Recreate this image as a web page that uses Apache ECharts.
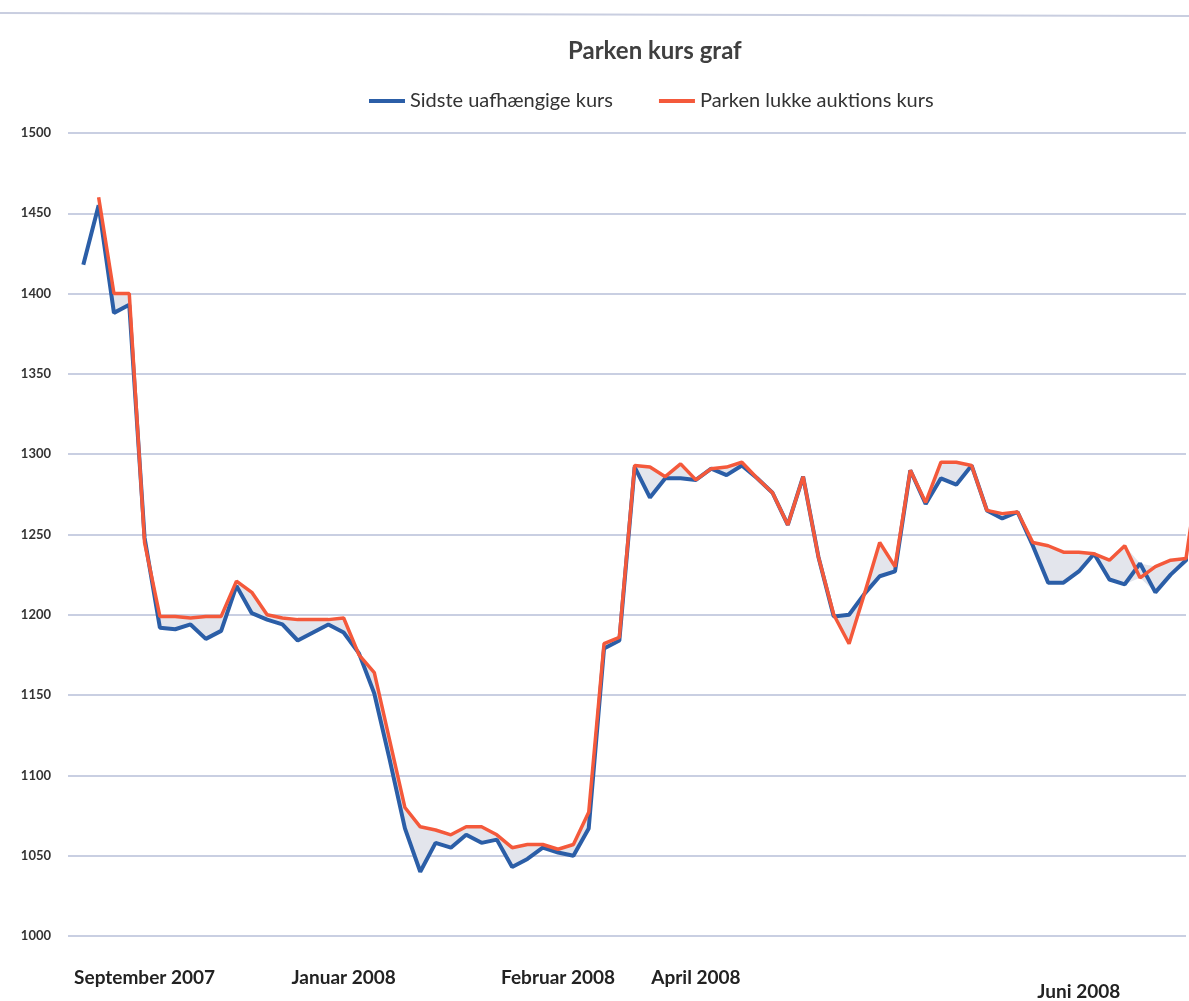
<!DOCTYPE html>
<html><head><meta charset="utf-8">
<script src="https://cdn.jsdelivr.net/npm/echarts@6/dist/echarts.min.js"></script>
<style>html,body{margin:0;padding:0;background:#fff}#c{width:1189px;height:1001px}</style>
</head><body><div id="c"></div>
<script>
const titleText = 'Parken kurs graf';
const seriesNames = ['Sidste uafhængige kurs', 'Parken lukke auktions kurs'];
const xLabelText = ['September 2007', 'Januar 2008', 'Februar 2008', 'April 2008', 'Juni 2008'];
const xLabelAt = [5, 18, 32, 41, 66];
const yMin = 1000, yMax = 1500, yStep = 50;

const blue = [1418, 1455, 1388, 1393, 1248, 1192, 1191, 1194, 1185, 1190,
  1218, 1201, 1197, 1194, 1184, 1189, 1194, 1189, 1176, 1151,
  1110, 1067, 1040, 1058, 1055, 1063, 1058, 1060, 1043, 1048,
  1055, 1052, 1050, 1067, 1179, 1184, 1292, 1273, 1285, 1285,
  1284, 1291, 1287, 1293, 1285, 1276, 1256, 1286, 1236, 1199,
  1200, 1213, 1224, 1227, 1290, 1269, 1285, 1281, 1293, 1265,
  1260, 1264, 1243, 1220, 1220, 1227, 1238, 1222, 1219, 1232,
  1214, 1225, 1234, 1245];
const red = [null, 1460, 1400, 1400, 1245, 1199, 1199, 1198, 1199, 1199,
  1221, 1214, 1200, 1198, 1197, 1197, 1197, 1198, 1175, 1164,
  1122, 1080, 1068, 1066, 1063, 1068, 1068, 1063, 1055, 1057,
  1057, 1054, 1057, 1077, 1182, 1186, 1293, 1292, 1286, 1294,
  1284, 1291, 1292, 1295, 1285, 1276, 1256, 1286, 1236, 1200,
  1182, 1213, 1245, 1230, 1290, 1270, 1295, 1295, 1293, 1265,
  1263, 1264, 1245, 1243, 1239, 1239, 1238, 1234, 1243, 1223,
  1230, 1234, 1235, 1300];

// category slots: slot 0 is empty, data point i sits on slot i+1
const cats = [];
for (let i = 0; i <= blue.length; i++) cats.push('c' + i);
const labelFor = i => { const k = xLabelAt.indexOf(i); return k >= 0 ? xLabelText[k] : ''; };

const B = [null].concat(blue);
const R = [null].concat(red);
const lo = B.map((b, i) => (b == null || R[i] == null) ? null : Math.min(b, R[i]));
const diff = B.map((b, i) => (b == null || R[i] == null) ? null : Math.abs(b - R[i]));

const FONT = 'Lato, "Open Sans", sans-serif';
const chart = echarts.init(document.getElementById('c'), null, {renderer: 'canvas'});
chart.setOption({
  animation: false,
  backgroundColor: '#ffffff',
  title: {
    text: titleText, left: 563, top: 34,
    textStyle: {fontFamily: FONT, fontSize: 24, fontWeight: 'bold', color: '#404040'}
  },
  legend: {
    data: seriesNames, left: 364, top: 86, icon: 'rect',
    itemWidth: 36, itemHeight: 4, itemGap: 46,
    textStyle: {fontFamily: FONT, fontSize: 20, color: '#333'}
  },
  graphic: [{
    type: 'line', shape: {x1: 0, y1: 13, x2: 1189, y2: 16},
    style: {stroke: '#c9cee0', lineWidth: 2}
  }],
  grid: {left: 68, right: 0, top: 133, bottom: 65, containLabel: false},
  xAxis: {
    type: 'category', data: cats, boundaryGap: false, min: 0, max: 73.3,
    axisLine: {show: false}, axisTick: {show: false}, splitLine: {show: false},
    axisLabel: {
      interval: 0, margin: 32, fontFamily: FONT, fontSize: 19, fontWeight: 'bold', color: '#222',
      formatter: (v, i) => {
        const t = labelFor(i);
        if (!t) return '';
        return i === xLabelAt[xLabelAt.length - 1] ? '{low|' + t + '}' : t;
      },
      rich: {low: {fontFamily: FONT, fontSize: 19, fontWeight: 'bold', color: '#222', padding: [14, 0, 0, 0]}}
    }
  },
  yAxis: {
    type: 'value', min: yMin, max: yMax, interval: yStep,
    axisLine: {show: false}, axisTick: {show: false},
    axisLabel: {margin: 17, fontFamily: FONT, fontSize: 13, fontWeight: 'bold', color: '#333',
      formatter: v => String(v)},
    splitLine: {lineStyle: {color: '#c9cfe2', width: 1.8}}
  },
  series: [
    {name: 'lo', type: 'line', stack: 'gap', data: lo, symbol: 'none',
      lineStyle: {opacity: 0}, silent: true},
    {name: 'gap', type: 'line', stack: 'gap', data: diff, symbol: 'none',
      lineStyle: {opacity: 0}, areaStyle: {color: '#e3e5ec', opacity: 1}, silent: true},
    {name: seriesNames[0], type: 'line', data: B, symbol: 'none',
      itemStyle: {color: '#2b5ea7'}, lineStyle: {color: '#2b5ea7', width: 4}},
    {name: seriesNames[1], type: 'line', data: R, symbol: 'none',
      itemStyle: {color: '#f4593b'}, lineStyle: {color: '#f4593b', width: 3.5}}
  ]
});
</script></body></html>
